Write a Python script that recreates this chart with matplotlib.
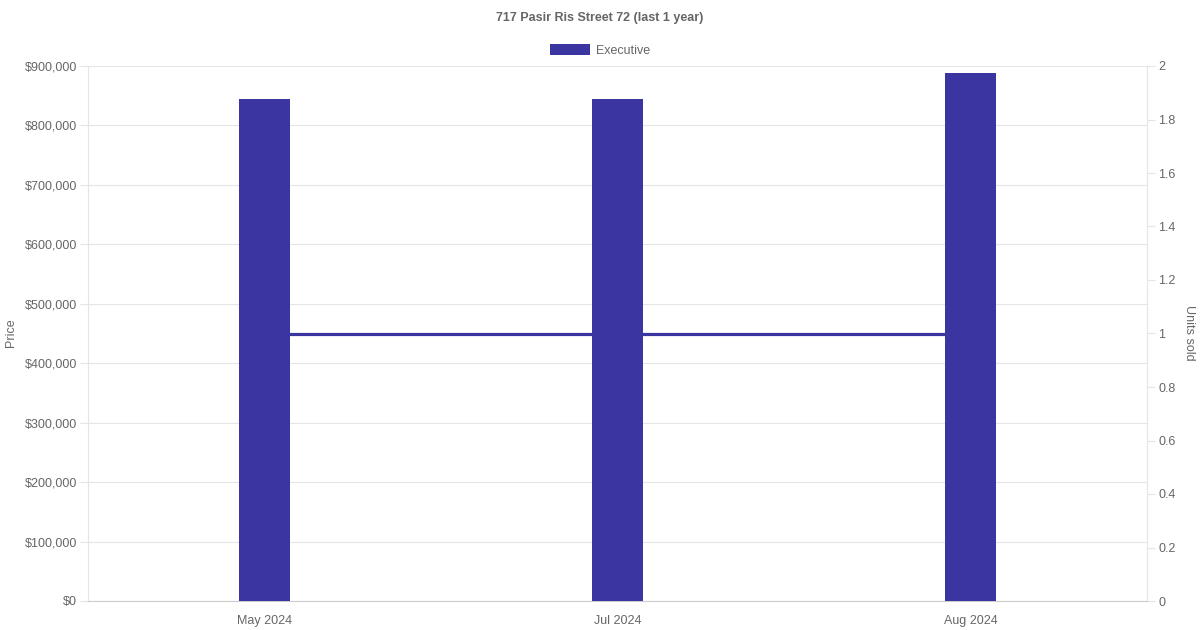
import matplotlib
matplotlib.use("Agg")
import matplotlib.pyplot as plt
from matplotlib.ticker import FuncFormatter, MultipleLocator

months = ["May 2024", "Jul 2024", "Aug 2024"]
prices = [845000, 845000, 888000]
units_sold = [1, 1, 1]
series_name = "Executive"
title = "717 Pasir Ris Street 72 (last 1 year)"

plt.rcParams['font.family'] = ['Liberation Sans', 'DejaVu Sans']
FS = 9.0
TXT = '#666666'
BAR = '#3a35a0'
GRID = '#e5e5e5'

fig = plt.figure(figsize=(12, 6.3), dpi=100)
ax = fig.add_axes([88/1200, 29/630, (1147-88)/1200, (601-66)/630])
ax2 = ax.twinx()
ax.set_zorder(ax2.get_zorder() + 1)
ax.patch.set_visible(False)

x = list(range(len(months)))
ax.bar(x, prices, width=0.142, color=BAR, zorder=3, label=series_name)
ax2.plot(x, units_sold, color=BAR, lw=2.3, zorder=2)

ax.set_xlim(-0.5, len(months) - 0.5)
ax.set_ylim(0, 900000)
ax2.set_ylim(0, 2)
ax.yaxis.set_major_locator(MultipleLocator(100000))
ax2.yaxis.set_major_locator(MultipleLocator(0.2))
ax.yaxis.set_major_formatter(FuncFormatter(lambda v, p: f"${v:,.0f}"))
ax2.yaxis.set_major_formatter(FuncFormatter(lambda v, p: f"{v:.1f}".rstrip('0').rstrip('.')))
ax.set_xticks(x)
ax.set_xticklabels(months)

ax.grid(axis='y', color=GRID, lw=0.8, zorder=0)
ax.set_axisbelow(True)
for a in (ax, ax2):
    for s in a.spines.values():
        s.set_visible(False)
ax.spines['left'].set_visible(True)
ax.spines['left'].set_color(GRID)
ax.spines['bottom'].set_visible(True)
ax.spines['bottom'].set_color('#cccccc')
ax2.spines['right'].set_visible(True)
ax2.spines['right'].set_color(GRID)

ax.tick_params(axis='y', colors=GRID, labelcolor=TXT, labelsize=FS, length=5.8, width=0.8, pad=2.2)
ax.tick_params(axis='x', colors=GRID, labelcolor=TXT, labelsize=FS, length=0, pad=10)
ax2.tick_params(axis='y', colors=GRID, labelcolor=TXT, labelsize=FS, length=5.8, width=0.8, pad=2.2)

fig.text(11/1200, 1 - 333/630, "Price", rotation=90, ha='center', va='center', color=TXT, fontsize=FS)
fig.text(1189/1200, 1 - 333/630, "Units sold", rotation=-90, ha='center', va='center', color=TXT, fontsize=FS)
fig.text(0.5, 1 - 17.5/630, title, ha='center', va='center', color=TXT, fontsize=FS, fontweight='bold')

leg = fig.legend(loc='center', bbox_to_anchor=(0.5, 1 - 50.5/630), frameon=False, fontsize=FS,
                 handlelength=3.2, handleheight=0.9, handletextpad=0.5, labelcolor=TXT)

fig.savefig("out.png", dpi=100, facecolor='white')
